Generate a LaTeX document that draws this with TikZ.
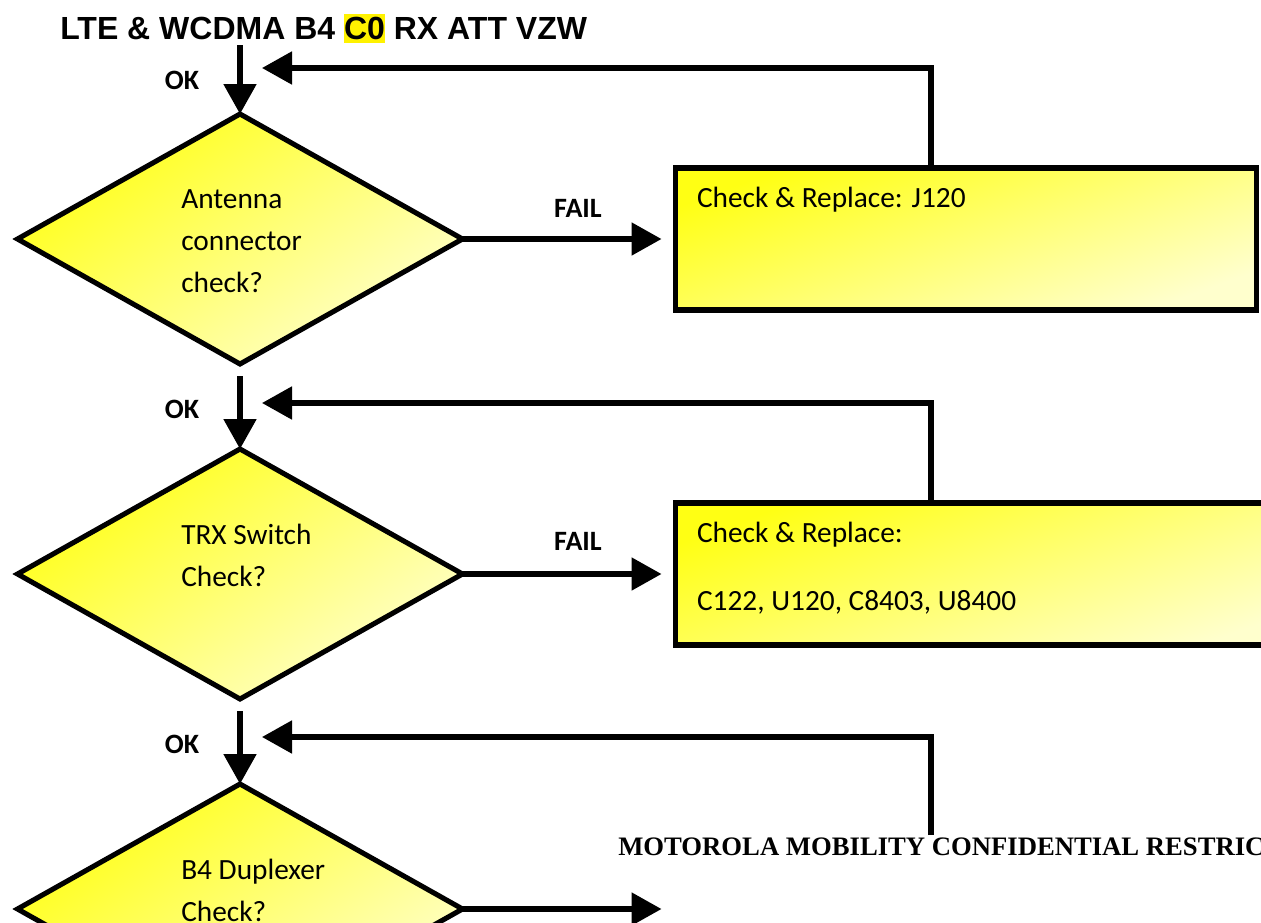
\documentclass[tikz,border=0pt]{standalone}
\usepackage{fontspec}
\setmainfont{Carlito}
\newfontfamily\titlefont{Liberation Sans}
\newfontfamily\notefont{Liberation Serif}
\usetikzlibrary{shapes.geometric,arrows.meta,positioning}
\definecolor{ylwdeep}{RGB}{255,255,20}
\definecolor{ylwpale}{RGB}{255,255,205}

\begin{document}
\begin{tikzpicture}[x=0.75pt,y=-0.75pt,
  question/.style={diamond,draw,line width=3.8pt,outer sep=0pt,inner sep=0pt,minimum width=333.75pt,minimum height=187.5pt,top color=ylwdeep,bottom color=ylwpale,shading angle=35},
  action/.style={rectangle,draw,line width=3.8pt,outer sep=0pt,inner sep=0pt,minimum width=436pt,minimum height=106.5pt,top color=ylwdeep,bottom color=ylwpale,shading angle=20},
  qtext/.style={anchor=north west,inner sep=0pt,align=left,font=\fontsize{22}{31.5}\selectfont},
  atext/.style={anchor=north west,inner sep=0pt,align=left,font=\fontsize{22}{25.5}\selectfont},
  lbl/.style={inner sep=0pt,font=\bfseries\fontsize{21}{25}\selectfont},
  flow/.style={line width=3.9pt,-{Triangle[length=22.5pt,width=24pt]}}]
\useasboundingbox (0,0) rectangle (1261,922);
\clip (0,0) rectangle (1261,922);
\node[anchor=base west,inner sep=0pt,font=\titlefont\bfseries\fontsize{24}{29}\selectfont](title) at (60,39){LTE \& WCDMA B4 {\setlength\fboxsep{0pt}\colorbox{yellow}{\rule[-0.12em]{0pt}{0.9em}C0}} RX ATT VZW};
% decisions
\node[question](q1) at (240,239){};
\node[question,below=63.75pt of q1](q2){};
\node[question,below=63.75pt of q2](q3){};
\node[qtext](q1t) at ([xshift=-44.25pt,yshift=37.5pt]q1.center){Antenna\\connector\\check?};
\node[qtext](q2t) at ([xshift=-44.25pt,yshift=37.5pt]q2.center){TRX Switch\\Check?};
\node[qtext](q3t) at ([xshift=-44.25pt,yshift=37.5pt]q3.center){B4 Duplexer\\Check?};
% repairs
\node[action,right=159.75pt of q1](r1){};
\node[action,right=159.75pt of q2,minimum width=480pt](r2){};
\node[atext](r1t) at ([xshift=16pt,yshift=-14.5pt]r1.north west){Check \& Replace: J120};
\node[atext](r2t) at ([xshift=16pt,yshift=-14.5pt]r2.north west){Check \& Replace:\\[25.5pt]C122, U120, C8403, U8400};
% labels
\node[lbl](ok1) at (182,80){OK};
\node[lbl](ok2) at (182,409){OK};
\node[lbl](ok3) at (182,744){OK};
\node[lbl](fail1) at (578,208){FAIL};
\node[lbl](fail2) at (578,541){FAIL};
\node[anchor=base west,inner sep=0pt,font=\notefont\bfseries\fontsize{20}{24}\selectfont](conf) at (618,855){MOTOROLA MOBILITY CONFIDENTIAL RESTRIC};
% connectors
\coordinate(in1) at (240,45);
\coordinate(ret1) at (262,68);
\coordinate(ret2) at (262,403);
\coordinate(ret3) at (262,737);
\coordinate(up3) at (931,835);
\draw[flow](in1)--(q1.north);
\draw[flow]([yshift=-9pt]q1.south)--(q2.north);
\draw[flow]([yshift=-9pt]q2.south)--(q3.north);
\draw[flow](q1.east)--++(199,0);
\draw[flow](q2.east)--++(199,0);
\draw[flow](q3.east)--++(199,0);
\draw[flow]([xshift=191.6pt]r1.north west)|-(ret1);
\draw[flow]([xshift=191.6pt]r2.north west)|-(ret2);
\draw[flow](up3)|-(ret3);
\end{tikzpicture}
\end{document}
